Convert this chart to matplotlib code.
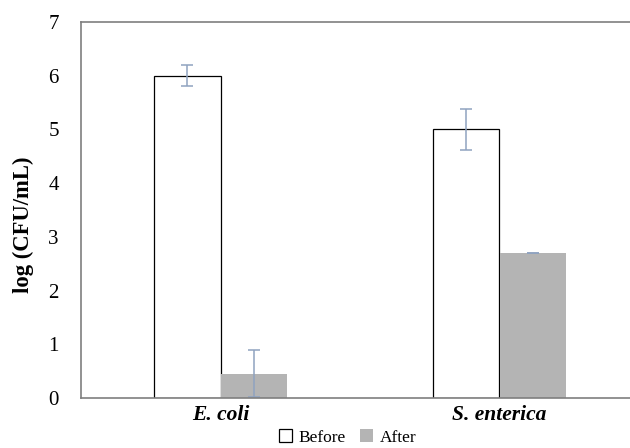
import matplotlib.pyplot as plt
import numpy as np

categories = ["E. coli", "S. enterica"]
before = [6.0, 5.0]
before_err = [0.2, 0.38]
after = [0.45, 2.7]
after_err = [0.44, 0.005]

plt.rcParams["font.family"] = ["Liberation Serif", "DejaVu Serif"]

fig = plt.figure(figsize=(6.3, 4.48), dpi=100)
ax = fig.add_axes([81 / 630, 50 / 448, 558 / 630, 376 / 448])

x = np.arange(len(categories))
w = 0.237
err_kw = dict(ecolor="#8fa3c0", elinewidth=1.1, capsize=4, capthick=1.1)
ax.bar(x - w / 2, before, w, color="white", edgecolor="black", linewidth=0.9,
       yerr=before_err, error_kw=err_kw, label="Before")
ax.bar(x + w / 2, after, w, color="#b4b4b4", edgecolor="none",
       yerr=after_err, error_kw=err_kw, label="After")

ax.set_xlim(-0.5, 1.5)
ax.set_ylim(0, 7)
ax.set_yticks(range(0, 8))
ax.set_xticks(x)
ax.set_xticklabels(categories, fontsize=15.5, fontweight="bold", style="italic")
ax.tick_params(axis="y", length=0, labelsize=15, pad=16)
ax.tick_params(axis="x", length=0, pad=5)
ax.set_ylabel("log (CFU/mL)", fontsize=16.3, fontweight="bold")
ax.yaxis.set_label_coords(-0.084, 0.46)
for side in ["left", "top", "bottom", "right"]:
    ax.spines[side].set_color("#7f7f7f")
    ax.spines[side].set_linewidth(1.2)

fig.legend(loc="lower center", bbox_to_anchor=(0.552, -0.03), ncol=2,
           frameon=False, fontsize=12.5, handlelength=0.75, handleheight=0.75,
           handletextpad=0.4, columnspacing=0.8)

fig.savefig("out.png", dpi=100)
